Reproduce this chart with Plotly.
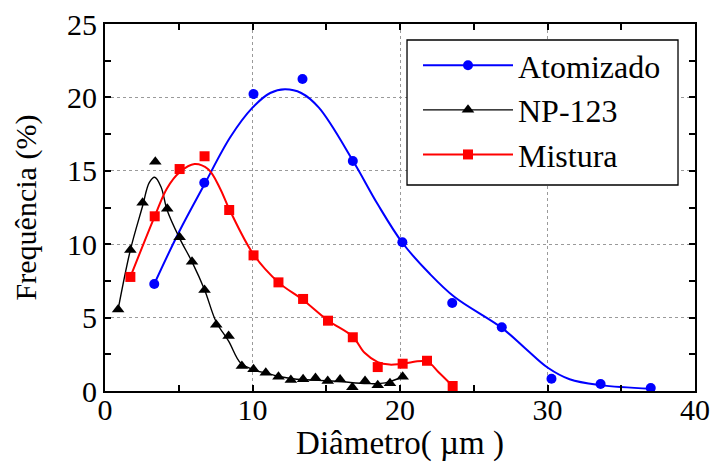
import plotly.graph_objects as go

# Measured particle-size distributions (diameter in µm, frequency in %)
atom_x = [3.34, 6.73, 10.07, 13.39, 16.80, 20.16, 23.54, 26.90, 30.27, 33.60, 37.00]
atom_y = [7.29, 14.19, 20.23, 21.25, 15.67, 10.13, 5.99, 4.34, 0.84, 0.48, 0.20]

np_x = [0.89, 1.72, 2.55, 3.41, 4.22, 5.06, 5.90, 6.75, 7.54, 8.38, 9.28, 10.07,
        10.90, 11.76, 12.60, 13.43, 14.27, 15.10, 15.94, 16.77, 17.63, 18.49, 19.32, 20.18]
np_y = [5.56, 9.60, 12.83, 15.62, 12.42, 10.47, 8.81, 6.88, 4.52, 3.75, 1.70, 1.48,
        1.25, 0.97, 0.75, 0.80, 0.89, 0.68, 0.78, 0.25, 0.68, 0.39, 0.52, 0.97]

mix_x = [1.72, 3.37, 5.06, 6.75, 8.42, 10.07, 11.76, 13.43, 15.12, 16.80, 18.49, 20.18, 21.83, 23.57]
mix_y = [7.77, 11.90, 15.12, 15.99, 12.33, 9.24, 7.40, 6.27, 4.79, 3.66, 1.63, 1.86, 2.06, 0.34]

# Smoothed fit curves for each distribution
atom_fit_x = [3.34, 5.0, 6.7, 8.5, 10.0, 11.2, 12.2, 13.3, 14.5, 16.8, 18.5, 20.16,
              22.0, 23.7, 26.9, 28.5, 30.0, 31.5, 33.6, 37.0]
atom_fit_y = [7.29, 10.8, 14.0, 17.3, 19.3, 20.3, 20.55, 20.3, 19.3, 15.7, 12.7, 10.1,
              8.0, 6.4, 4.3, 2.9, 1.6, 0.8, 0.4, 0.15]

np_fit_x = [0.89, 1.72, 2.55, 3.0, 3.37, 3.8, 4.22, 5.06, 5.9, 6.75, 7.54, 8.38,
            9.2, 10.07, 11.0, 12.0, 13.0, 14.0, 15.0, 16.0, 17.0, 18.0, 19.0, 20.18]
np_fit_y = [5.56, 9.6, 12.6, 14.2, 14.56, 13.9, 12.3, 10.4, 8.8, 6.9, 4.7, 3.4,
            1.9, 1.45, 1.2, 0.95, 0.8, 0.75, 0.7, 0.65, 0.55, 0.5, 0.55, 0.97]

mix_fit_x = [1.72, 3.37, 4.2, 5.06, 6.07, 7.0, 7.8, 8.42, 10.07, 11.76, 13.43, 15.12,
             16.8, 17.6, 18.49, 19.3, 20.18, 21.83, 22.6, 23.57]
mix_fit_y = [7.77, 11.9, 13.8, 14.9, 15.46, 15.1, 13.8, 12.4, 9.3, 7.4, 6.2, 4.8,
             3.7, 2.6, 1.97, 1.8, 1.86, 2.0, 1.3, 0.34]

series = [
    ("Atomizado", atom_x, atom_y, atom_fit_x, atom_fit_y, "#0000FF", "circle", 10, 2),
    ("NP-123", np_x, np_y, np_fit_x, np_fit_y, "#000000", "triangle-up", 11, 1.4),
    ("Mistura", mix_x, mix_y, mix_fit_x, mix_fit_y, "#FF0000", "square", 10, 2),
]

FONT = "Liberation Serif, Times New Roman, serif"

fig = go.Figure()
for name, x, y, fx, fy, color, symbol, msize, lw in series:
    fig.add_trace(go.Scatter(
        x=fx, y=fy, mode="lines", line=dict(color=color, width=lw, shape="spline", smoothing=1.0),
        showlegend=False, hoverinfo="skip"))
    fig.add_trace(go.Scatter(
        x=x, y=y, mode="markers", marker=dict(color=color, symbol=symbol, size=msize),
        showlegend=False, name=name))
    # legend entry (line with marker)
    fig.add_trace(go.Scatter(
        x=[None], y=[None], mode="lines+markers", name=name,
        line=dict(color=color, width=lw),
        marker=dict(color=color, symbol=symbol, size=msize)))

axis_common = dict(
    showline=True, linecolor="black", linewidth=2, mirror="allticks",
    ticks="inside", ticklen=6, tickwidth=1.5, tickcolor="black",
    showgrid=True, gridcolor="#9a9a9a", griddash="dot", gridwidth=1.3,
    zeroline=False, automargin=False,
    tickfont=dict(family=FONT, size=30, color="black"),
)

fig.update_xaxes(
    range=[0, 40], dtick=10, tick0=0, ticklabelstandoff=-9,
    minor=dict(dtick=5, ticks="inside", ticklen=6, tickwidth=1.5, tickcolor="black", showgrid=False),
    title=dict(text="Diâmetro( µm )", font=dict(family=FONT, size=33, color="black"), standoff=4),
    **axis_common)
fig.update_yaxes(
    range=[0, 25], dtick=5, tick0=0,
    minor=dict(dtick=2.5, ticks="inside", ticklen=6, tickwidth=1.5, tickcolor="black", showgrid=False),
    title=dict(text="Frequência (%)", font=dict(family=FONT, size=30, color="black"), standoff=22),
    **axis_common)

# legend frame
fig.add_shape(type="rect", xref="paper", yref="paper",
              x0=0.5119, x1=0.9712, y0=0.5613, y1=0.9564,
              line=dict(color="black", width=1.3), fillcolor="white", layer="above")

fig.update_layout(
    width=715, height=462,
    margin=dict(l=105, r=20, t=24, b=71),
    plot_bgcolor="white", paper_bgcolor="white",
    font=dict(family=FONT, color="black"),
    legend=dict(
        x=(418 - 105) / 590, y=0.962, xanchor="left", yanchor="top",
        bgcolor="rgba(0,0,0,0)", borderwidth=0,
        font=dict(family=FONT, size=32, color="black"),
        itemwidth=90, tracegroupgap=0,
    ),
)

fig.write_html("out.html")
